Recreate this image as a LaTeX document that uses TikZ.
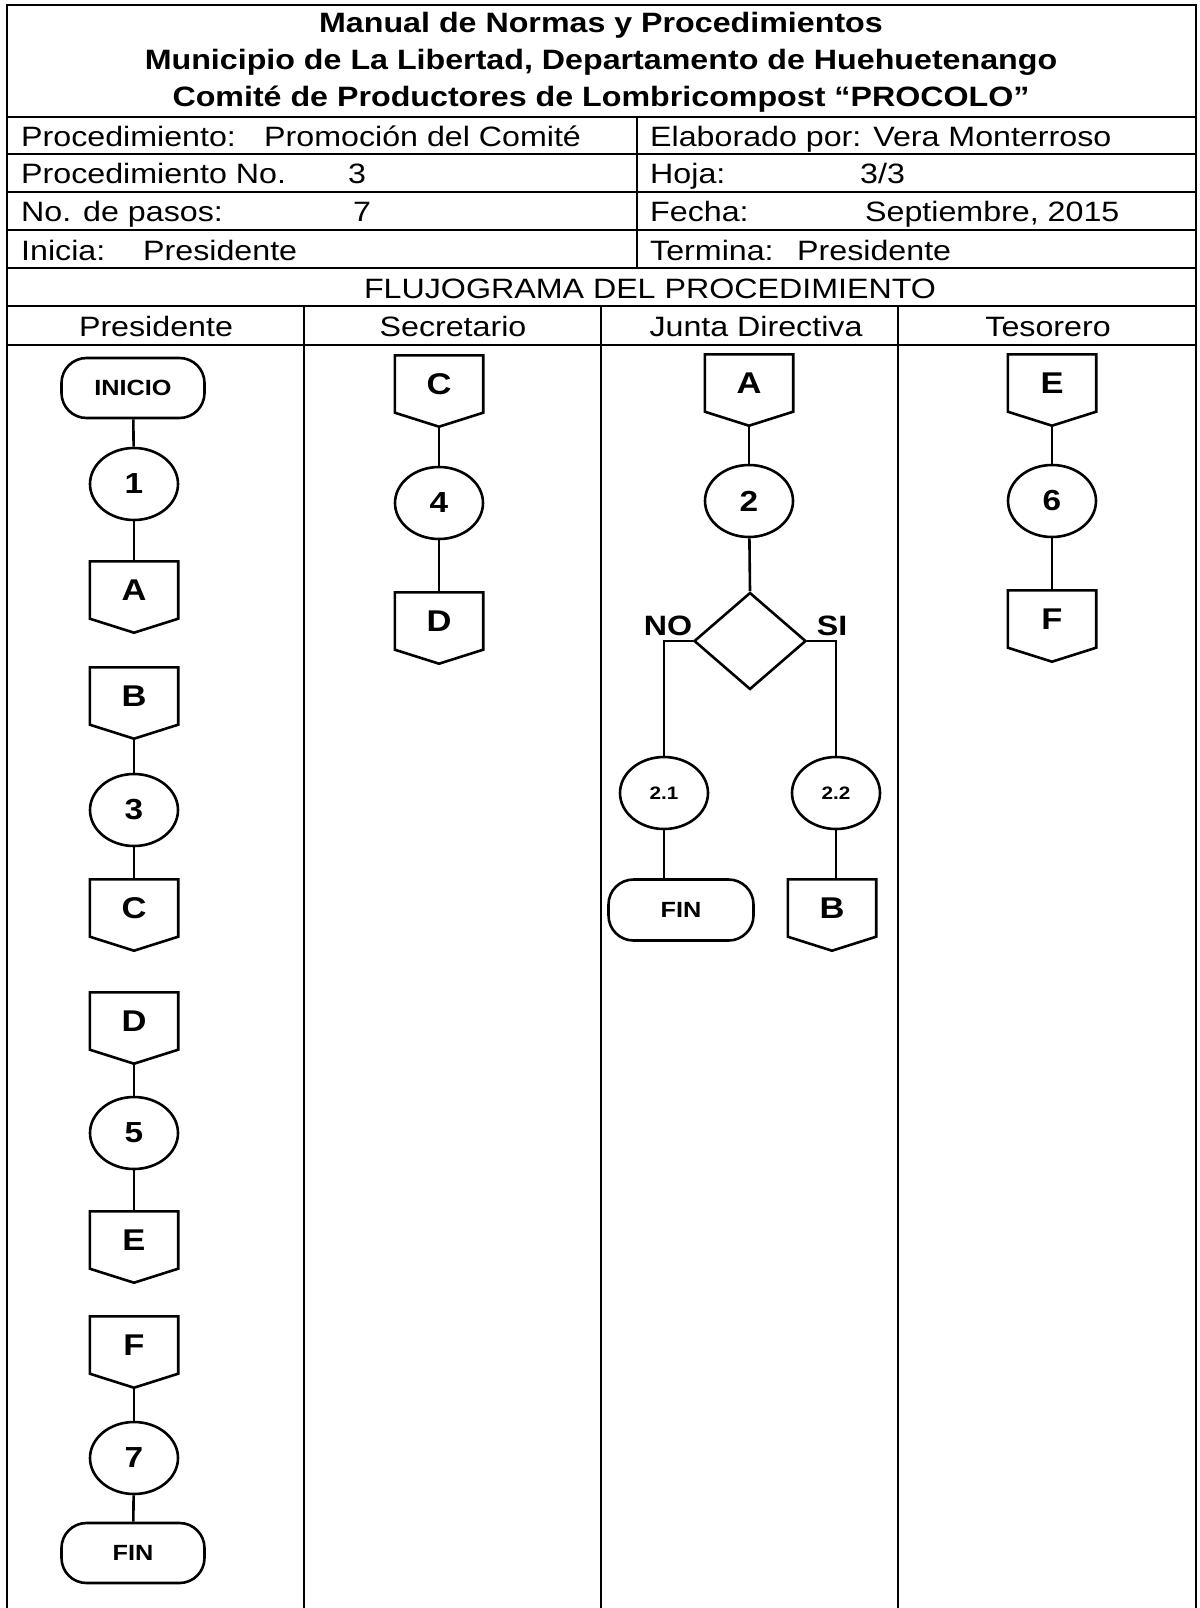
\documentclass[tikz,border=0pt]{standalone}
\usepackage{fontspec}
\setmainfont{Liberation Sans}[FakeStretch=1.15]
\usetikzlibrary{shapes.geometric,calc}
\begin{document}
\begin{tikzpicture}[x=1pt,y=-1pt,
  tbl/.style={line width=2.8pt},
  shp/.style={draw, line width=2.6pt},
  conn/.style={line width=2.6pt},
  titletext/.style={anchor=base, inner sep=0pt, font=\fontsize{28}{30}\selectfont\bfseries},
  cell/.style={anchor=base west, inner sep=0pt, font=\fontsize{28}{30}\selectfont},
  head/.style={anchor=base, inner sep=0pt, font=\fontsize{28}{30}\selectfont},
  term/.style={shp, rounded corners=25pt, minimum width=143pt, minimum height=60pt, inner sep=0pt, font=\fontsize{22}{24}\selectfont\bfseries},
  proc/.style={shp, ellipse, minimum width=88pt, minimum height=72pt, inner sep=0pt, font=\fontsize{29}{31}\selectfont\bfseries},
  subproc/.style={proc, font=\fontsize{18}{20}\selectfont\bfseries},
  opc/.style={minimum width=88pt, minimum height=57pt, inner sep=0pt, font=\fontsize{30}{32}\selectfont\bfseries},
  decision/.style={shp, diamond, minimum width=112pt, minimum height=97pt, inner sep=0pt},
  lbl/.style={inner sep=0pt, font=\fontsize{28}{30}\selectfont\bfseries}
]
\newcommand\offpagebox[1]{\draw[shp] (#1.south west) -- (#1.north west) -- (#1.north east) -- (#1.south east) -- ([yshift=-14pt]#1.south) -- cycle;}
\useasboundingbox (0,0) rectangle (1199,1608);
\fill[white] (0,0) rectangle (1199,1608);

% table
\draw[tbl] (7,1608) -- (7,5) -- (1196,5) -- (1196,1608);
\foreach \y in {117,154,192,230,268,306,345} \draw[tbl] (7,\y) -- (1196,\y);
\draw[tbl] (637,117) -- (637,268);
\foreach \x in {304,601,898} \draw[tbl] (\x,306) -- (\x,1608);

% title
\node[titletext] (title1) at (601,33) {Manual de Normas y Procedimientos};
\node[titletext] (title2) at (601,70) {Municipio de La Libertad, Departamento de Huehuetenango};
\node[titletext] (title3) at (601,107) {Comité de Productores de Lombricompost “PROCOLO”};

% info rows
\node[cell] (r1a) at (21,147) {Procedimiento:};
\node[cell] (r1b) at (264,147) {Promoción del Comité};
\node[cell] (r1c) at (650,147) {Elaborado por: Vera Monterroso};
\node[cell] (r2a) at (21,184) {Procedimiento No.};
\node[cell] (r2b) at (348,184) {3};
\node[cell] (r2c) at (650,184) {Hoja:};
\node[cell] (r2d) at (860,184) {3/3};
\node[cell] (r3a) at (21,222) {No. de pasos:};
\node[cell] (r3b) at (353,222) {7};
\node[cell] (r3c) at (650,222) {Fecha:};
\node[cell] (r3d) at (865,222) {Septiembre, 2015};
\node[cell] (r4a) at (21,260) {Inicia:};
\node[cell] (r4b) at (143,260) {Presidente};
\node[cell] (r4c) at (650,260) {Termina:};
\node[cell] (r4d) at (797,260) {Presidente};
\node[head] (flujo) at (650,298) {FLUJOGRAMA DEL PROCEDIMIENTO};
\node[head] (h1) at (156,336) {Presidente};
\node[head] (h2) at (453,336) {Secretario};
\node[head] (h3) at (756,336) {Junta Directiva};
\node[head] (h4) at (1048,336) {Tesorero};

% Presidente column
\node[term] (inicio) at (133,388) {INICIO};
\node[proc] (p1) at (134,484) {1};
\node[opc] (pA) at (134,590) {A};
\node[opc] (pB) at (134,696) {B};
\node[proc] (p3) at (134,810) {3};
\node[opc] (pC) at (134,908) {C};
\node[opc] (pD) at (134,1021) {D};
\node[proc] (p5) at (134,1133) {5};
\node[opc] (pE) at (134,1240) {E};
\node[opc] (pF) at (134,1345) {F};
\node[proc] (p7) at (134,1458) {7};
\node[term] (fin1) at (133,1553) {FIN};
\offpagebox{pA}\offpagebox{pB}\offpagebox{pC}\offpagebox{pD}\offpagebox{pE}\offpagebox{pF}
\draw[conn] (inicio) -- (p1);
\draw[conn] (p1) -- (pA);
\draw[conn] ([yshift=-14pt]pB.south) -- (p3);
\draw[conn] (p3) -- (pC);
\draw[conn] ([yshift=-14pt]pD.south) -- (p5);
\draw[conn] (p5) -- (pE);
\draw[conn] ([yshift=-14pt]pF.south) -- (p7);
\draw[conn] (p7) -- (fin1);

% Secretario column
\node[opc] (sC) at (439,384) {C};
\node[proc] (s4) at (439,503) {4};
\node[opc] (sD) at (439,621) {D};
\offpagebox{sC}\offpagebox{sD}
\draw[conn] ([yshift=-14pt]sC.south) -- (s4);
\draw[conn] (s4) -- (sD);

% Junta Directiva column
\node[opc] (jA) at (749,383) {A};
\node[proc] (j2) at (749,501) {2};
\node[decision] (dec) at (750,641) {};
\node[subproc] (j21) at (664,793) {2.1};
\node[subproc] (j22) at (836,793) {2.2};
\node[term, minimum width=145pt, minimum height=61pt] (fin2) at (681,910) {FIN};
\node[opc] (jB) at (832,908) {B};
\offpagebox{jA}\offpagebox{jB}
\node[lbl] (no) at (668,626) {NO};
\node[lbl] (si) at (832,626) {SI};
\draw[conn] ([yshift=-14pt]jA.south) -- (j2);
\draw[conn] (j2) -- (dec.north);
\draw[conn] (dec.west) -| (j21.north);
\draw[conn] (dec.east) -| (j22.north);
\draw[conn] (j21.south) -- (j21.south |- fin2.north);
\draw[conn] (j22.south) -- (j22.south |- jB.north);

% Tesorero column
\node[opc] (tE) at (1052,383) {E};
\node[proc] (t6) at (1052,501) {6};
\node[opc] (tF) at (1052,619) {F};
\offpagebox{tE}\offpagebox{tF}
\draw[conn] ([yshift=-14pt]tE.south) -- (t6);
\draw[conn] (t6) -- (tF);
\end{tikzpicture}
\end{document}
